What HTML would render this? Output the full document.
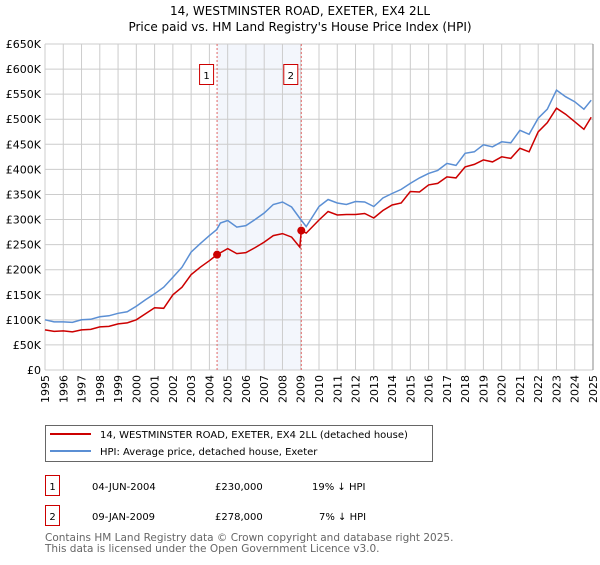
<!DOCTYPE html>
<html><head><meta charset="utf-8"><style>
body{margin:0;background:#fff;font-family:"Liberation Sans","DejaVu Sans",sans-serif}
svg text{font-family:"DejaVu Sans","Liberation Sans",sans-serif}
</style></head><body>
<svg id="c" width="600" height="560" xmlns="http://www.w3.org/2000/svg">
<text x="300" y="15" text-anchor="middle" font-size="12">14, WESTMINSTER ROAD, EXETER, EX4 2LL</text>
<text x="300" y="31" text-anchor="middle" font-size="12">Price paid vs. HM Land Registry's House Price Index (HPI)</text>
<g id="grid"></g><g id="marks"></g><g id="axes"></g>
<g>
<rect x="45.5" y="425.5" width="387" height="36" fill="#fff" stroke="#666"/>
<line x1="50" y1="434" x2="91" y2="434" stroke="#cc0000" stroke-width="2"/>
<text x="100" y="438" font-size="10">14, WESTMINSTER ROAD, EXETER, EX4 2LL (detached house)</text>
<line x1="50" y1="451" x2="91" y2="451" stroke="#5b8fd4" stroke-width="2"/>
<text x="100" y="455" font-size="10">HPI: Average price, detached house, Exeter</text>
</g>
<g font-size="10">
<rect x="45.5" y="475.5" width="14" height="20" fill="none" stroke="#cc0000"/>
<text x="52.5" y="490" text-anchor="middle">1</text>
<text x="92" y="490">04-JUN-2004</text><text x="215" y="490">£230,000</text><text x="312" y="490">19% ↓ HPI</text>
<rect x="45.5" y="505.5" width="14" height="20" fill="none" stroke="#cc0000"/>
<text x="52.5" y="520" text-anchor="middle">2</text>
<text x="92" y="520">09-JAN-2009</text><text x="215" y="520">£278,000</text><text x="319" y="520">7% ↓ HPI</text>
</g>
<text x="45" y="541" font-size="10.5" fill="#666">Contains HM Land Registry data © Crown copyright and database right 2025.</text>
<text x="45" y="552" font-size="10.5" fill="#666">This data is licensed under the Open Government Licence v3.0.</text>
</svg>
<script>
const hpiYears=[1995,1995.5,1996,1996.5,1997,1997.5,1998,1998.5,1999,1999.5,2000,2000.5,2001,2001.5,2002,2002.5,2003,2003.5,2004,2004.4,2004.6,2005,2005.5,2006,2006.5,2007,2007.5,2008,2008.5,2009,2009.3,2010,2010.5,2011,2011.5,2012,2012.5,2013,2013.5,2014,2014.5,2015,2015.5,2016,2016.5,2017,2017.5,2018,2018.5,2019,2019.5,2020,2020.5,2021,2021.5,2022,2022.5,2023,2023.5,2024,2024.5,2024.9];
const hpiValues=[100,96,96,95,100,101,106,108,113,116,127,140,152,165,185,205,235,252,268,280,293,298,285,288,300,313,330,335,325,300,286,326,340,333,330,336,335,326,343,352,360,372,383,392,398,412,408,432,435,449,445,455,453,478,470,502,520,558,545,535,520,538];
const priceYears=[1995,1995.5,1996,1996.5,1997,1997.5,1998,1998.5,1999,1999.5,2000,2000.5,2001,2001.5,2002,2002.5,2003,2003.5,2004,2004.42,2005,2005.5,2006,2006.5,2007,2007.5,2008,2008.5,2008.95,2009.03,2009.3,2010,2010.5,2011,2011.5,2012,2012.5,2013,2013.5,2014,2014.5,2015,2015.5,2016,2016.5,2017,2017.5,2018,2018.5,2019,2019.5,2020,2020.5,2021,2021.5,2022,2022.5,2023,2023.5,2024,2024.5,2024.9];
const priceValues=[80,77,78,76,80,81,86,87,92,94,100,112,124,123,150,165,190,205,218,230,242,232,234,244,255,268,272,265,245,278,273,299,316,309,310,310,312,303,318,329,333,356,355,369,372,385,383,405,410,419,415,425,422,442,435,475,493,522,510,495,480,504];
const saleYears=[2004.42,2009.03];
const saleValues=[230,278];
const saleLabels=["1","2"];
const yTicks=[0,50,100,150,200,250,300,350,400,450,500,550,600,650];
const xTicks=[1995,1996,1997,1998,1999,2000,2001,2002,2003,2004,2005,2006,2007,2008,2009,2010,2011,2012,2013,2014,2015,2016,2017,2018,2019,2020,2021,2022,2023,2024,2025];
const X0=45,X1=593,Y0=370,Y1=44;
const xs=y=>X0+(y-1995)/30*(X1-X0);
const ys=v=>Y0-v/650*(Y0-Y1);
const NS="http://www.w3.org/2000/svg";
function mk(t,a,p){const e=document.createElementNS(NS,t);for(const k in a)e.setAttribute(k,a[k]);p.appendChild(e);return e;}
const grid=document.getElementById('grid'),marks=document.getElementById('marks'),axes=document.getElementById('axes');
const sh=mk('rect',{x:xs(saleYears[0]),y:Y1,width:xs(saleYears[1])-xs(saleYears[0]),height:Y0-Y1,fill:'#eef2fb',opacity:0.7},grid);


yTicks.forEach(v=>{
  const l=mk('line',{x1:X0,x2:X1,y1:ys(v),y2:ys(v),stroke:'#ccc'},grid);
  
  
  const t=mk('text',{x:X0-4,y:ys(v)+4,'text-anchor':'end','font-size':'11'},axes);
  
  
  t.textContent=v===0?'£0':'£'+v+'K';
});
xTicks.forEach(y=>{
  const l=mk('line',{x1:xs(y),x2:xs(y),y1:Y1,y2:Y0,stroke:'#ccc'},grid);
  
  
  const t=mk('text',{x:0,y:0,'text-anchor':'end','font-size':'11',transform:`translate(${xs(y)+4},${Y0+5}) rotate(-90)`},axes);
  
  
  t.textContent=y;
});
saleYears.forEach((y,i)=>{
  const l=mk('line',{x1:xs(y),x2:xs(y),y1:Y1,y2:Y0,stroke:'#e06666','stroke-dasharray':'2,2'},grid);
  
  
  const r=mk('rect',{x:xs(y)-17.5,y:64.5,width:14,height:20,fill:'#fff',stroke:'#cc0000'},marks);
  
  
  const t=mk('text',{x:xs(y)-10.5,y:79,'text-anchor':'middle','font-size':'10'},marks);
  
  
  t.textContent=saleLabels[i];
});
const pl=(xa,va)=>xa.map((y,i)=>xs(y).toFixed(1)+','+ys(va[i]).toFixed(1)).join(' ');
const h=mk('polyline',{points:pl(hpiYears,hpiValues),fill:'none',stroke:'#5b8fd4','stroke-width':1.5},marks);


const p=mk('polyline',{points:pl(priceYears,priceValues),fill:'none',stroke:'#cc0000','stroke-width':1.5},marks);


saleYears.forEach((y,i)=>{
  const c=mk('circle',{cx:xs(y),cy:ys(saleValues[i]),r:4,fill:'#cc0000'},marks);
  
  
});
const ax=mk('line',{x1:X1,x2:X1,y1:Y1,y2:Y0,stroke:'#888'},axes);


</script>
</body></html>
